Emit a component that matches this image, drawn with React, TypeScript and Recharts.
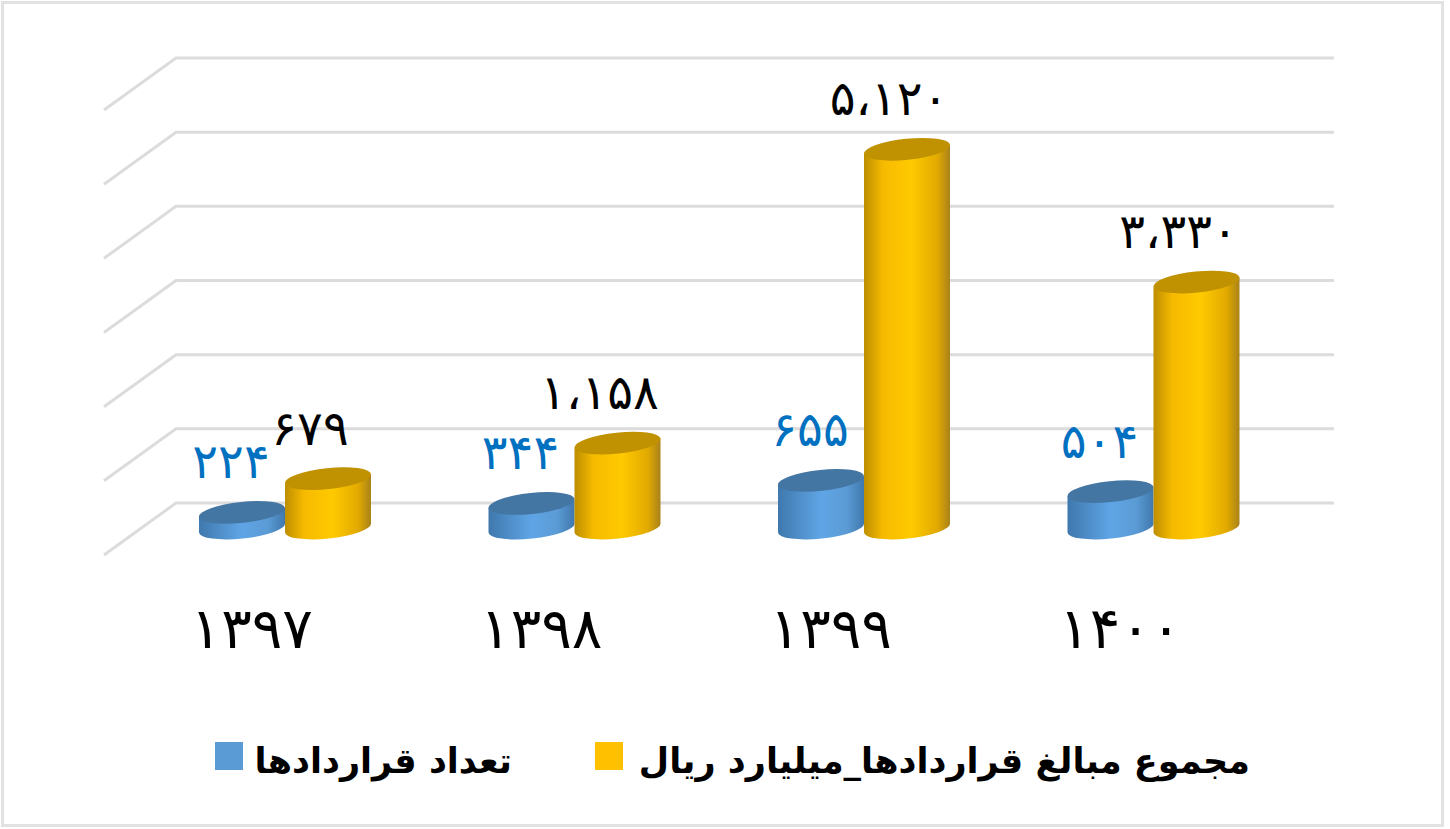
import React from 'react';
import { BarChart, Bar, XAxis, YAxis, CartesianGrid, LabelList, Legend } from 'recharts';

const years = ['۱۳۹۷', '۱۳۹۸', '۱۳۹۹', '۱۴۰۰'];
const contractCount = [224, 344, 655, 504];
const contractTotal = [679, 1158, 5120, 3330];
const countLabels = ['۲۲۴', '۳۴۴', '۶۵۵', '۵۰۴'];
const totalLabels = ['۶۷۹', '۱،۱۵۸', '۵،۱۲۰', '۳،۳۳۰'];
const yTicks = [0, 1000, 2000, 3000, 4000, 5000, 6000];

const COUNT_NAME = 'تعداد قراردادها';
const TOTAL_NAME = 'مجموع مبالغ قراردادها_میلیارد ریال';

const data = years.map((year, i) => ({
  year,
  count: contractCount[i],
  total: contractTotal[i],
  countLabel: countLabels[i],
  totalLabel: totalLabels[i],
}));

const FONT = '"DejaVu Sans", sans-serif';
const DEPTH_X = 36;
const GRID_COLOR = '#dcdcdc';

// wall line plus the short diagonal across the floor
const GridLine = (props: any) => {
  const { x1, x2, y1 } = props;
  const backY = y1 - 25;
  return (
    <path
      key={props.key}
      d={`M${x1 - DEPTH_X} ${backY + 52} L${x1 + DEPTH_X} ${backY} L${x2 + DEPTH_X} ${backY}`}
      fill="none"
      stroke={GRID_COLOR}
      strokeWidth={3}
    />
  );
};

const Cylinder = (props: any) => {
  const { x, y, width, height, sideFill, topFill } = props;
  const rx = width / 2;
  const ry = 10.5;
  const tilt = 4.5;
  const top = y + 1;
  const bottom = y + height;
  // top edge of the side is a straight line hidden under the lid
  const side = `M${x} ${top + tilt} L${x} ${bottom + tilt} A${rx} ${ry} -6 0 0 ${x + width} ${bottom - tilt} L${x + width} ${top - tilt} Z`;
  return (
    <g>
      <path d={side} fill={sideFill} />
      <ellipse
        cx={x + rx}
        cy={top}
        rx={rx * 1.0055}
        ry={ry}
        fill={topFill}
        transform={`rotate(-6 ${x + rx} ${top})`}
      />
    </g>
  );
};

const valueLabel = (labels: string[], color: string, dx: number) => (props: any) => {
  const { x, y, width, index } = props;
  return (
    <text
      x={x + width / 2 + dx}
      y={y - 33}
      textAnchor="middle"
      fontFamily={FONT}
      fontSize={48}
      fill={color}
      direction="ltr"
    >
      {labels[index]}
    </text>
  );
};

const YearTick = (props: any) => {
  const { x, payload } = props;
  return (
    <text x={x - 33} y={648} textAnchor="middle" fontFamily={FONT} fontSize={57} fill="#000">
      {payload.value}
    </text>
  );
};

const legendSwatch = (left: number, color: string): React.CSSProperties => ({
  position: 'absolute',
  left,
  top: 742,
  width: 28,
  height: 28,
  background: color,
});

const legendText = (right: number): React.CSSProperties => ({
  position: 'absolute',
  right,
  top: 741,
  direction: 'rtl',
  whiteSpace: 'nowrap',
  fontFamily: FONT,
  fontWeight: 700,
  fontSize: 35,
  color: '#000',
});

// zero height so the legend does not eat into the plot area
const ChartLegend = () => (
  <div style={{ position: 'relative', width: 1450, height: 0 }}>
    <div style={legendSwatch(215, '#5b9bd5')} />
    <div style={legendText(938)}>{COUNT_NAME}</div>
    <div style={legendSwatch(595, '#ffc000')} />
    <div style={legendText(200)}>{TOTAL_NAME}</div>
  </div>
);

export default function App() {
  return (
    <div style={{ position: 'absolute', left: 0, top: 0, width: 1450, height: 829, background: '#fff' }}>
      <div
        style={{
          position: 'absolute',
          left: 1,
          top: 1,
          width: 1437,
          height: 820,
          border: '3px solid #e2e2e2',
        }}
      />
      <BarChart
        width={1450}
        height={829}
        data={data}
        margin={{ top: 83, right: 152, bottom: 260, left: 140 }}
        barCategoryGap={59}
        barGap={0}
        style={{ position: 'absolute', left: 0, top: 0 }}
      >
        <defs>
          <linearGradient id="blueSide" x1="0" y1="0" x2="1" y2="0">
            <stop offset="0" stopColor="#3f78ad" />
            <stop offset="0.5" stopColor="#5fa5e6" />
            <stop offset="0.8" stopColor="#5b9bd5" />
            <stop offset="1" stopColor="#3f78ad" />
          </linearGradient>
          <linearGradient id="yellowSide" x1="0" y1="0" x2="1" y2="0">
            <stop offset="0" stopColor="#bd8e00" />
            <stop offset="0.22" stopColor="#f6ba00" />
            <stop offset="0.55" stopColor="#ffca00" />
            <stop offset="0.85" stopColor="#e2aa00" />
            <stop offset="1" stopColor="#a9821a" />
          </linearGradient>
        </defs>
        <CartesianGrid horizontal={GridLine} vertical={false} syncWithTicks />
        <XAxis dataKey="year" axisLine={false} tickLine={false} tick={YearTick} interval={0} height={41} />
        <YAxis hide domain={[0, 6000]} ticks={yTicks} width={0} />
        <Legend content={ChartLegend} wrapperStyle={{ position: 'absolute', left: 0, top: 0, bottom: 'auto' }} />
        <Bar
          dataKey="count"
          name={COUNT_NAME}
          fill="#5b9bd5"
          barSize={86}
          isAnimationActive={false}
          shape={(p: any) => <Cylinder {...p} sideFill="url(#blueSide)" topFill="#4476a4" />}
        >
          <LabelList dataKey="countLabel" content={valueLabel(countLabels, '#0070c0', -11)} />
        </Bar>
        <Bar
          dataKey="total"
          name={TOTAL_NAME}
          fill="#ffc000"
          barSize={86}
          isAnimationActive={false}
          shape={(p: any) => <Cylinder {...p} sideFill="url(#yellowSide)" topFill="#c09100" />}
        >
          <LabelList dataKey="totalLabel" content={valueLabel(totalLabels, '#000', -18)} />
        </Bar>
      </BarChart>
    </div>
  );
}
